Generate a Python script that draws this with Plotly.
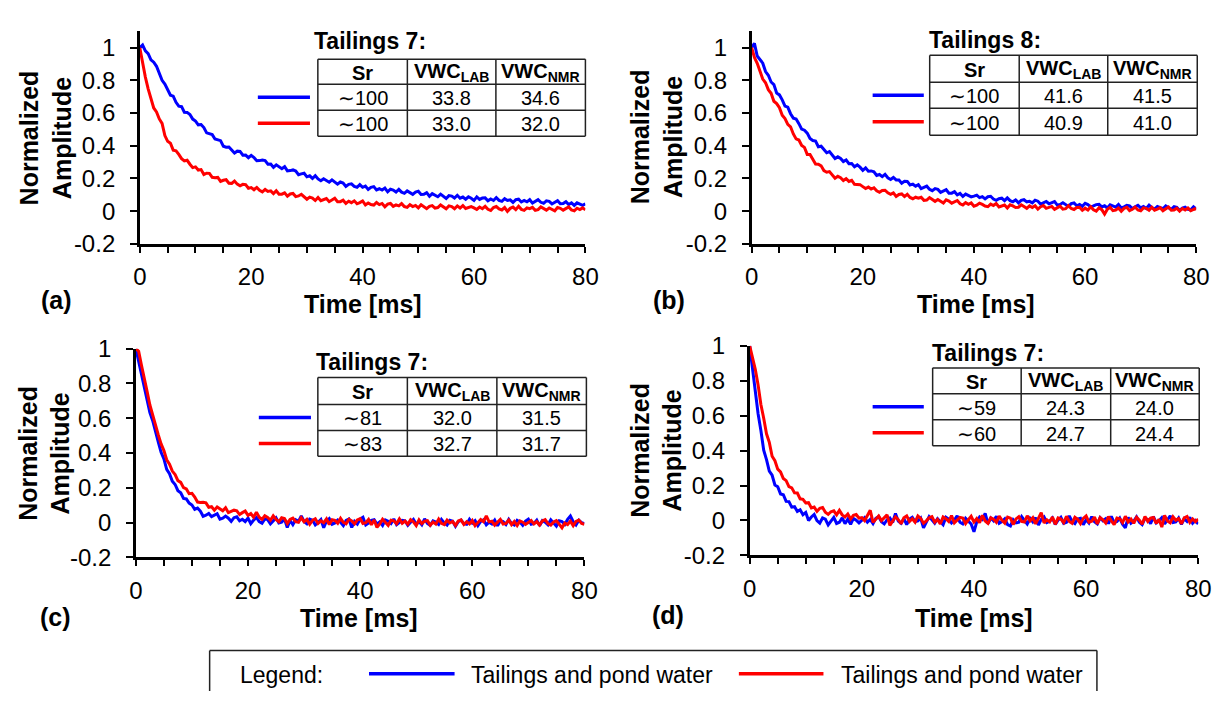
import plotly.graph_objects as go

# figure size in px, everything below is placed in px and converted to paper coords
W, H = 1226, 704

# time axis: one sample every 0.5 ms
T_MS = [i * 0.5 for i in range(161)]

# (a) Tailings 7, Sr ~100
A_BLUE = [1.000, 1.016, 0.980, 0.963, 0.926, 0.911, 0.886, 0.841, 0.800, 0.777, 0.747, 0.709, 0.703, 0.666, 0.642, 0.639, 0.605, 0.604, 0.591, 0.563,
          0.551, 0.528, 0.530, 0.511, 0.479, 0.473, 0.468, 0.441, 0.435, 0.431, 0.397, 0.391, 0.392, 0.376, 0.356, 0.367, 0.365, 0.342, 0.343, 0.327,
          0.341, 0.328, 0.308, 0.309, 0.312, 0.309, 0.287, 0.288, 0.268, 0.283, 0.273, 0.260, 0.272, 0.246, 0.248, 0.252, 0.245, 0.223, 0.228, 0.232,
          0.210, 0.216, 0.200, 0.217, 0.197, 0.186, 0.198, 0.190, 0.177, 0.191, 0.176, 0.165, 0.178, 0.172, 0.151, 0.164, 0.167, 0.151, 0.146, 0.162,
          0.146, 0.153, 0.133, 0.146, 0.150, 0.130, 0.137, 0.129, 0.141, 0.118, 0.134, 0.129, 0.117, 0.133, 0.116, 0.109, 0.124, 0.116, 0.103, 0.117,
          0.122, 0.102, 0.103, 0.113, 0.091, 0.107, 0.099, 0.088, 0.104, 0.090, 0.077, 0.095, 0.092, 0.080, 0.097, 0.079, 0.086, 0.073, 0.088, 0.079,
          0.066, 0.087, 0.072, 0.080, 0.081, 0.063, 0.074, 0.065, 0.083, 0.066, 0.060, 0.076, 0.065, 0.069, 0.053, 0.070, 0.073, 0.056, 0.065, 0.057,
          0.070, 0.049, 0.061, 0.070, 0.054, 0.048, 0.063, 0.060, 0.044, 0.055, 0.064, 0.045, 0.047, 0.058, 0.040, 0.051, 0.035, 0.051, 0.045, 0.036, 0.045]
A_RED = [1.000, 0.896, 0.820, 0.748, 0.684, 0.631, 0.607, 0.564, 0.537, 0.462, 0.427, 0.415, 0.373, 0.369, 0.347, 0.321, 0.307, 0.311, 0.287, 0.266,
         0.271, 0.251, 0.254, 0.224, 0.232, 0.231, 0.207, 0.204, 0.206, 0.182, 0.189, 0.192, 0.171, 0.170, 0.184, 0.165, 0.155, 0.164, 0.162, 0.140,
         0.144, 0.131, 0.145, 0.127, 0.118, 0.133, 0.121, 0.124, 0.107, 0.125, 0.104, 0.104, 0.112, 0.092, 0.105, 0.108, 0.089, 0.093, 0.103, 0.086,
         0.073, 0.086, 0.080, 0.065, 0.083, 0.064, 0.069, 0.077, 0.058, 0.069, 0.079, 0.058, 0.058, 0.067, 0.047, 0.061, 0.052, 0.063, 0.045, 0.052,
         0.062, 0.038, 0.050, 0.040, 0.037, 0.053, 0.040, 0.047, 0.027, 0.043, 0.047, 0.029, 0.038, 0.032, 0.046, 0.028, 0.023, 0.039, 0.028, 0.035,
         0.020, 0.039, 0.025, 0.015, 0.029, 0.034, 0.019, 0.022, 0.038, 0.026, 0.015, 0.032, 0.028, 0.015, 0.032, 0.019, 0.034, 0.016, 0.021, 0.028,
         0.020, 0.010, 0.025, 0.015, 0.029, 0.011, 0.004, 0.022, 0.028, 0.014, 0.007, 0.022, -0.001, 0.017, 0.025, 0.009, 0.030, 0.011, 0.005, 0.020,
         0.015, 0.023, 0.005, 0.009, 0.026, 0.017, 0.006, 0.019, 0.011, 0.002, 0.022, 0.017, 0.006, 0.014, 0.026, 0.007, 0.002, 0.018, 0.010, 0.020, 0.008]

# (b) Tailings 8, Sr ~100
B_BLUE = [1.000, 1.027, 0.949, 0.929, 0.905, 0.854, 0.831, 0.790, 0.774, 0.723, 0.711, 0.681, 0.643, 0.636, 0.596, 0.569, 0.564, 0.535, 0.502, 0.495,
          0.477, 0.444, 0.432, 0.429, 0.394, 0.397, 0.378, 0.357, 0.364, 0.342, 0.322, 0.332, 0.322, 0.303, 0.313, 0.290, 0.291, 0.272, 0.283, 0.269,
          0.250, 0.265, 0.244, 0.246, 0.241, 0.218, 0.224, 0.211, 0.225, 0.204, 0.194, 0.206, 0.191, 0.191, 0.171, 0.183, 0.182, 0.160, 0.165, 0.153,
          0.162, 0.138, 0.147, 0.153, 0.134, 0.125, 0.138, 0.133, 0.115, 0.124, 0.131, 0.110, 0.110, 0.119, 0.099, 0.108, 0.090, 0.104, 0.097, 0.087,
          0.092, 0.098, 0.083, 0.089, 0.075, 0.088, 0.091, 0.074, 0.066, 0.076, 0.079, 0.064, 0.081, 0.064, 0.057, 0.069, 0.051, 0.066, 0.070, 0.057,
          0.060, 0.051, 0.067, 0.061, 0.043, 0.050, 0.059, 0.045, 0.051, 0.059, 0.037, 0.041, 0.051, 0.042, 0.029, 0.046, 0.050, 0.033, 0.041, 0.030,
          0.048, 0.040, 0.026, 0.032, 0.040, 0.042, 0.026, 0.033, 0.019, 0.039, 0.033, 0.025, 0.041, 0.020, 0.026, 0.035, 0.032, 0.016, 0.027, 0.036,
          0.020, 0.029, 0.017, 0.037, 0.021, 0.013, 0.029, 0.024, 0.015, 0.032, 0.020, 0.011, 0.027, 0.023, 0.004, 0.019, 0.024, 0.011, 0.008, 0.026, 0.012]
B_RED = [1.000, 0.940, 0.904, 0.855, 0.808, 0.785, 0.743, 0.721, 0.672, 0.658, 0.633, 0.586, 0.566, 0.531, 0.516, 0.472, 0.442, 0.435, 0.402, 0.390,
         0.347, 0.347, 0.315, 0.288, 0.287, 0.277, 0.248, 0.238, 0.242, 0.220, 0.201, 0.213, 0.204, 0.187, 0.199, 0.182, 0.189, 0.164, 0.161, 0.162,
         0.150, 0.138, 0.147, 0.135, 0.143, 0.124, 0.115, 0.126, 0.128, 0.112, 0.103, 0.112, 0.090, 0.102, 0.105, 0.089, 0.103, 0.084, 0.076, 0.085,
         0.079, 0.085, 0.066, 0.068, 0.083, 0.072, 0.060, 0.071, 0.061, 0.050, 0.069, 0.062, 0.049, 0.055, 0.065, 0.045, 0.038, 0.052, 0.042, 0.050,
         0.030, 0.036, 0.049, 0.041, 0.031, 0.027, 0.043, 0.034, 0.046, 0.026, 0.030, 0.037, 0.019, 0.039, 0.032, 0.022, 0.024, 0.039, 0.028, 0.017,
         0.032, 0.022, 0.033, 0.012, 0.027, 0.034, 0.017, 0.021, 0.029, 0.011, 0.022, 0.030, 0.012, 0.015, 0.033, 0.016, 0.010, 0.022, 0.024, 0.005,
         0.018, 0.007, 0.027, 0.008, 0.000, 0.021, 0.009, -0.018, 0.012, 0.024, 0.003, 0.007, 0.019, -0.001, 0.017, 0.023, 0.003, 0.011, 0.025, 0.007,
         0.002, 0.020, 0.017, 0.005, 0.024, 0.006, 0.012, 0.021, 0.002, 0.014, 0.025, 0.006, 0.007, 0.018, 0.000, 0.016, 0.007, 0.019, 0.002, 0.010, 0.016]

# (c) Tailings 7, Sr ~81 / ~83
C_BLUE = [1.000, 0.925, 0.856, 0.776, 0.712, 0.633, 0.586, 0.515, 0.463, 0.404, 0.366, 0.306, 0.281, 0.238, 0.219, 0.183, 0.171, 0.139, 0.136, 0.112,
          0.101, 0.076, 0.083, 0.066, 0.036, 0.042, 0.052, 0.034, 0.041, 0.051, 0.020, 0.025, 0.037, 0.025, 0.007, 0.028, 0.033, 0.010, 0.019, 0.005,
          0.026, -0.007, 0.014, 0.029, 0.005, -0.004, 0.021, 0.017, -0.007, 0.011, 0.027, -0.002, 0.002, 0.021, -0.028, 0.012, -0.012, 0.016, 0.007, 0.038,
          0.006, -0.007, 0.020, 0.014, -0.014, 0.001, 0.017, -0.030, 0.009, 0.023, -0.010, -0.002, 0.015, 0.002, -0.017, 0.012, 0.020, -0.028, 0.007, -0.009,
          0.020, 0.030, -0.014, -0.003, 0.012, 0.016, -0.009, 0.004, -0.017, 0.015, 0.007, -0.006, 0.021, -0.012, -0.001, 0.013, 0.010, -0.016, 0.002, 0.018,
          -0.010, 0.006, -0.013, 0.021, -0.005, -0.016, 0.010, 0.003, -0.011, 0.018, -0.002, -0.014, 0.013, 0.008, -0.021, 0.005, 0.014, -0.006, -0.010, 0.019,
          -0.003, 0.011, -0.018, 0.006, 0.016, -0.013, 0.002, -0.008, 0.014, -0.019, 0.010, 0.005, -0.011, 0.018, -0.006, -0.014, 0.013, 0.003, -0.016, 0.008,
          0.019, -0.010, -0.005, 0.014, -0.018, 0.011, 0.002, -0.013, 0.016, -0.003, -0.021, 0.010, 0.006, -0.011, 0.018, 0.038, 0.005, -0.014, 0.013, 0.000, -0.006]
C_RED = [1.000, 0.985, 0.905, 0.818, 0.754, 0.676, 0.613, 0.551, 0.504, 0.452, 0.414, 0.361, 0.336, 0.296, 0.276, 0.241, 0.231, 0.201, 0.193, 0.166,
         0.168, 0.147, 0.118, 0.116, 0.117, 0.113, 0.088, 0.091, 0.071, 0.090, 0.081, 0.068, 0.085, 0.057, 0.064, 0.071, 0.067, 0.046, 0.057, 0.066,
         0.041, 0.052, 0.031, 0.060, 0.031, 0.018, 0.039, 0.030, 0.013, 0.039, 0.018, 0.004, 0.028, 0.023, -0.006, 0.018, 0.026, 0.005, 0.001, 0.028,
         0.004, 0.018, -0.010, 0.013, 0.022, -0.005, 0.009, -0.001, 0.021, -0.011, 0.016, 0.012, -0.004, 0.024, 0.001, -0.007, 0.019, 0.010, -0.008, 0.015,
         0.022, -0.005, -0.001, 0.018, -0.013, 0.015, -0.028, -0.008, 0.019, 0.001, -0.016, 0.013, 0.010, -0.007, 0.021, -0.004, 0.009, -0.010, 0.016, 0.004,
         -0.018, 0.015, -0.006, 0.008, 0.011, -0.015, 0.003, -0.009, 0.020, -0.005, -0.012, 0.014, -0.002, 0.006, -0.017, 0.009, 0.015, -0.011, 0.005, -0.008,
         0.012, -0.018, 0.002, 0.017, 0.005, 0.038, 0.004, 0.008, -0.015, 0.003, 0.018, -0.009, -0.005, 0.014, -0.012, 0.006, -0.017, 0.009, 0.002, -0.011,
         0.000, 0.012, -0.008, 0.005, -0.014, 0.009, 0.017, -0.006, -0.015, 0.003, 0.011, -0.009, -0.030, -0.003, -0.012, 0.008, -0.018, 0.006, 0.014, -0.005, -0.010]

# (d) Tailings 7, Sr ~59 / ~60
D_BLUE = [1.000, 0.862, 0.745, 0.611, 0.515, 0.402, 0.348, 0.283, 0.259, 0.203, 0.193, 0.152, 0.147, 0.109, 0.108, 0.076, 0.079, 0.052, 0.061, 0.033,
          0.046, 0.000, 0.020, 0.034, -0.001, -0.015, 0.014, 0.007, -0.025, -0.002, 0.018, -0.017, -0.010, 0.015, -0.018, 0.007, -0.022, 0.012, 0.002, -0.014,
          0.000, 0.016, -0.010, 0.006, -0.018, 0.012, 0.022, -0.008, -0.020, 0.004, 0.014, -0.012, 0.040, -0.004, -0.016, 0.010, -0.024, 0.008, 0.018, -0.006,
          -0.002, 0.014, -0.042, -0.012, 0.022, 0.004, -0.016, 0.010, -0.006, -0.024, 0.018, 0.008, -0.014, 0.002, 0.026, -0.010, -0.020, 0.012, -0.004, -0.020,
          -0.065, -0.008, 0.020, 0.006, 0.040, -0.018, 0.014, -0.002, 0.024, -0.016, -0.006, 0.010, -0.024, -0.032, 0.004, -0.014, -0.010, 0.022, 0.000, -0.020,
          0.012, -0.008, 0.016, -0.026, 0.006, 0.020, -0.012, -0.004, 0.014, -0.022, 0.002, 0.018, -0.016, -0.010, 0.026, -0.006, -0.018, 0.008, 0.012, -0.024,
          0.004, -0.014, 0.022, -0.008, -0.020, 0.016, -0.002, 0.010, -0.018, 0.024, -0.012, -0.006, 0.014, -0.022, -0.042, 0.018, -0.016, -0.004, 0.020, -0.010,
          -0.024, 0.012, 0.006, -0.018, 0.022, -0.014, -0.002, 0.016, -0.020, 0.004, 0.026, -0.012, -0.008, 0.014, -0.022, 0.010, -0.006, 0.018, -0.016, 0.000, -0.020]
D_RED = [1.000, 0.934, 0.865, 0.776, 0.664, 0.585, 0.496, 0.447, 0.368, 0.342, 0.294, 0.278, 0.240, 0.228, 0.194, 0.187, 0.158, 0.157, 0.124, 0.121,
         0.100, 0.102, 0.072, 0.077, 0.052, 0.070, 0.074, 0.047, 0.035, 0.050, 0.055, 0.032, 0.058, 0.032, 0.020, 0.037, 0.008, 0.029, 0.034, 0.013,
         0.016, -0.001, 0.032, 0.058, -0.011, 0.006, 0.026, -0.001, 0.015, 0.032, -0.028, 0.000, 0.021, 0.005, -0.019, 0.016, 0.026, -0.006, 0.010, -0.010,
         0.026, 0.012, -0.016, -0.002, 0.016, 0.022, -0.010, 0.006, -0.020, 0.020, 0.010, -0.006, 0.028, -0.014, 0.000, 0.018, 0.014, -0.018, 0.004, 0.024,
         -0.009, 0.011, -0.013, 0.029, -0.003, -0.017, 0.015, 0.007, -0.011, 0.025, 0.001, -0.015, 0.019, 0.013, -0.023, 0.009, 0.021, -0.005, -0.009, 0.027,
         -0.002, 0.016, -0.020, 0.010, 0.045, -0.014, 0.004, -0.008, 0.020, -0.022, 0.014, 0.008, -0.012, 0.024, -0.006, -0.016, 0.018, 0.006, -0.018, 0.012,
         0.026, -0.010, -0.004, 0.020, -0.020, 0.016, 0.004, -0.014, 0.022, -0.002, -0.024, 0.014, 0.010, -0.012, 0.024, -0.008, 0.008, -0.016, 0.018, 0.002,
         -0.021, 0.023, -0.005, 0.013, 0.017, -0.017, 0.007, -0.038, 0.029, -0.003, -0.013, 0.021, 0.001, 0.011, -0.019, 0.015, 0.023, -0.011, 0.009, -0.007, 0.007]

# inset tables
TABLE_HEADER = ["Sr", "VWC<sub>LAB</sub>", "VWC<sub>NMR</sub>"]
TABLE_A = [["∼100", "33.8", "34.6"], ["∼100", "33.0", "32.0"]]
TABLE_B = [["∼100", "41.6", "41.5"], ["∼100", "40.9", "41.0"]]
TABLE_C = [["∼81", "32.0", "31.5"], ["∼83", "32.7", "31.7"]]
TABLE_D = [["∼59", "24.3", "24.0"], ["∼60", "24.7", "24.4"]]
TABLE_TITLES = ["Tailings 7:", "Tailings 8:", "Tailings 7:", "Tailings 7:"]
PANEL_TAGS = ["(a)", "(b)", "(c)", "(d)"]

Y_TICKS = [-0.2, 0, 0.2, 0.4, 0.6, 0.8, 1]
Y_TICK_TEXT = ["-0.2", "0", "0.2", "0.4", "0.6", "0.8", "1"]
LEGEND_LABELS = ["Tailings and pond water", "Tailings and pond water"]

BLUE = "#0000FF"
RED = "#FF0000"
EDGE = "#222222"
FONT = "Arial, 'Liberation Sans', sans-serif"


def fx(px):
    return px / W


def fy(py):
    return 1 - py / H


def note(x, y, text, size, bold=False, xanchor="center", **kw):
    # text placed in figure px
    return dict(x=fx(x), y=fy(y), xref="paper", yref="paper", showarrow=False,
                xanchor=xanchor, yanchor="middle",
                text=("<b>" + text + "</b>") if bold else text,
                font=dict(family=FONT, size=size, color="black"), **kw)


def seg(x0, y0, x1, y1, color=EDGE, width=1.5):
    return dict(type="line", xref="paper", yref="paper", x0=fx(x0), x1=fx(x1),
                y0=fy(y0), y1=fy(y1), line=dict(color=color, width=width))


for s in [A_BLUE, A_RED, B_BLUE, B_RED, C_BLUE, C_RED, D_BLUE, D_RED]:
    assert len(s) == len(T_MS), len(s)

# px geometry of each panel: plot box, y max, table box, legend-line x span
panels = [
    dict(box=(135, 588, 18, 239), ymax=1.1, series=(A_BLUE, A_RED), table=TABLE_A,
         cols=(316, 407, 497, 588), rows=(47, 73, 100, 127), title=(310, 28),
         key_x=(255, 308), ytitle=(39, 129), xtitle=(362, 302), tag=(50, 297)),
    dict(box=(757, 1209, 18, 239), ymax=1.1, series=(B_BLUE, B_RED), table=TABLE_B,
         cols=(938, 1029, 1119, 1210), rows=(43, 71, 98, 126), title=(935, 27),
         key_x=(880, 932), ytitle=(660, 128), xtitle=(985, 302), tag=(673, 297)),
    dict(box=(131, 587, 348, 565), ymax=1.0, series=(C_BLUE, C_RED), table=TABLE_C,
         cols=(316, 407, 498, 589), rows=(378, 406, 433, 460), title=(312, 362),
         key_x=(256, 309), ytitle=(38, 457), xtitle=(358, 628), tag=(49, 627)),
    dict(box=(755, 1211, 345, 563), ymax=1.0, series=(D_BLUE, D_RED), table=TABLE_D,
         cols=(941, 1031, 1122, 1212), rows=(368, 395, 422, 449), title=(938, 353),
         key_x=(880, 932), ytitle=(660, 454), xtitle=(983, 628), tag=(672, 625)),
]

fig = go.Figure()
shapes = []
annotations = []
layout_axes = {}

for i, p in enumerate(panels, start=1):
    sfx = "" if i == 1 else str(i)
    xl, xr, yt, yb = p["box"]
    blue, red = p["series"]
    for ys, col in ((blue, BLUE), (red, RED)):
        fig.add_trace(go.Scatter(x=T_MS, y=ys, mode="lines",
                                 line=dict(color=col, width=3),
                                 xaxis="x" + sfx, yaxis="y" + sfx,
                                 showlegend=False, hoverinfo="skip"))

    layout_axes["xaxis" + sfx] = dict(
        domain=[fx(xl), fx(xr)], range=[0, 80], anchor="y" + sfx,
        showline=True, linecolor="black", linewidth=2.5,
        ticks="outside", ticklen=6, tickwidth=2, tickcolor="black",
        tickmode="linear", tick0=0, dtick=20,
        minor=dict(ticks="outside", tick0=0, dtick=5, ticklen=6, tickwidth=2, tickcolor="black"),
        showgrid=False, zeroline=False, ticklabelstandoff=4,
        tickfont=dict(family=FONT, size=24, color="black"))
    layout_axes["yaxis" + sfx] = dict(
        domain=[fy(yb), fy(yt)], range=[-0.2, p["ymax"]], anchor="x" + sfx,
        showline=True, linecolor="black", linewidth=2.5,
        ticks="outside", ticklen=7, tickwidth=2, tickcolor="black",
        tickmode="array", tickvals=Y_TICKS, ticktext=Y_TICK_TEXT,
        showgrid=False, zeroline=False, ticklabelstandoff=10,
        tickfont=dict(family=FONT, size=24, color="black"))

    # axis titles and panel tag
    annotations.append(note(*p["xtitle"], "Time [ms]", 25, bold=True))
    annotations.append(note(*p["ytitle"], "Normalized<br>Amplitude", 25, bold=True, textangle=-90))
    annotations.append(note(*p["tag"], PANEL_TAGS[i - 1], 25, bold=True))

    # inset table
    cols, rows = p["cols"], p["rows"]
    annotations.append(note(*p["title"], TABLE_TITLES[i - 1], 23, bold=True, xanchor="left"))
    for cx in cols:
        shapes.append(seg(cx, rows[0], cx, rows[-1]))
    for ry in rows:
        shapes.append(seg(cols[0], ry, cols[-1], ry))
    cells = [TABLE_HEADER] + p["table"]
    for r, row in enumerate(cells):
        cy = (rows[r] + rows[r + 1]) / 2
        for c, txt in enumerate(row):
            cx = (cols[c] + cols[c + 1]) / 2
            annotations.append(note(cx, cy + 1, txt, 20, bold=(r == 0)))
    for r, col in ((1, BLUE), (2, RED)):
        ly = (rows[r] + rows[r + 1]) / 2
        shapes.append(seg(p["key_x"][0], ly, p["key_x"][1], ly, color=col, width=3.5))

# bottom legend box, open at the bottom edge of the picture
shapes.append(seg(206, 704, 206, 662))
shapes.append(seg(206, 662, 1108, 662))
shapes.append(seg(1108, 662, 1108, 704))
annotations.append(note(235, 687, "Legend:", 23, xanchor="left"))
for (lx0, lx1, tx), col, lab in zip([(368, 455, 470), (744, 830, 846)], [BLUE, RED], LEGEND_LABELS):
    shapes.append(seg(lx0, 686, lx1, 686, color=col, width=3.5))
    annotations.append(note(tx, 687, lab, 23, xanchor="left"))

fig.update_layout(
    width=W, height=H,
    margin=dict(l=0, r=0, t=0, b=0),
    paper_bgcolor="white", plot_bgcolor="white",
    showlegend=False,
    shapes=shapes, annotations=annotations,
    **layout_axes
)

# the page body has a default 8px margin; drop it so the figure fills the window
fig.write_html("out.html", config={"displayModeBar": False},
               post_script="document.body.style.margin='0';document.body.style.overflow='hidden';")
